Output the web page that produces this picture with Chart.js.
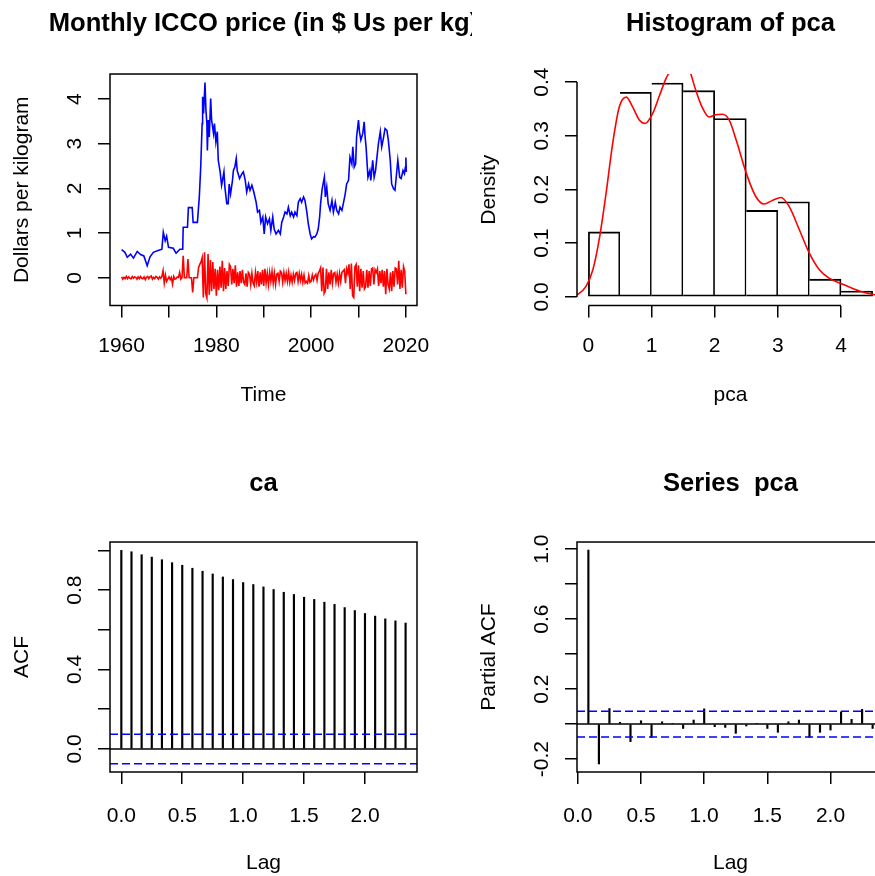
<!DOCTYPE html>
<html>
<head>
<meta charset="utf-8">
<script src="https://cdn.jsdelivr.net/npm/chart.js@4.4.1/dist/chart.umd.min.js"></script>
<style>
    html, body { margin: 0; padding: 0; background: #fff; }
    body { position: relative; width: 875px; height: 876px; overflow: hidden; }
    .panel { position: absolute; overflow: hidden; }
    .panel canvas { position: absolute; left: 0; top: 0; }
</style>
</head>
<body>
<div class="panel" style="left:467px;top:0;width:408px;height:438px"><canvas id="histChart" width="527" height="438" style="width:527px;height:438px"></canvas></div>
<div class="panel" style="left:467px;top:438px;width:408px;height:438px"><canvas id="pacfChart" width="527" height="438" style="width:527px;height:438px"></canvas></div>
<div class="panel" style="left:0;top:0;width:472px;height:438px"><canvas id="priceChart" width="527" height="438" style="width:527px;height:438px"></canvas></div>
<div class="panel" style="left:0;top:438px;width:467px;height:438px"><canvas id="acfChart" width="527" height="438" style="width:527px;height:438px"></canvas></div>
<script>
// --- monthly ICCO price (blue)
const priceYears = [
    1960.0, 1960.7, 1961.2, 1961.9, 1962.5, 1963.3, 1964.0, 1964.7, 1965.4, 1966.0,
    1966.7, 1967.7, 1968.5, 1968.8, 1969.2, 1969.5, 1969.9, 1970.9, 1971.5, 1972.3,
    1972.9, 1973.0, 1973.9, 1974.1, 1974.9, 1975.1, 1976.0, 1976.4, 1976.7, 1977.0,
    1977.1, 1977.3, 1977.6, 1977.8, 1978.0, 1978.1, 1978.3, 1978.5, 1978.8, 1979.0,
    1979.4, 1979.6, 1979.9, 1980.2, 1980.4, 1980.8, 1981.1, 1981.3, 1981.6, 1981.8,
    1982.2, 1982.5, 1982.7, 1983.0, 1983.4, 1983.6, 1983.9, 1984.2, 1984.4, 1984.9,
    1985.4, 1985.7, 1986.1, 1986.4, 1986.8, 1987.1, 1987.5, 1987.9, 1988.4, 1988.7,
    1989.1, 1989.4, 1989.8, 1990.1, 1990.4, 1990.8, 1991.2, 1991.5, 1991.9, 1992.2,
    1992.6, 1993.1, 1993.5, 1993.8, 1994.2, 1994.5, 1994.9, 1995.2, 1995.6, 1995.9,
    1996.3, 1996.6, 1997.0, 1997.3, 1997.7, 1998.0, 1998.4, 1998.7, 1999.1, 1999.4,
    1999.8, 2000.1, 2000.5, 2000.8, 2001.2, 2001.5, 2001.8, 2002.0, 2002.3, 2002.6,
    2002.8, 2003.0, 2003.3, 2003.6, 2004.0, 2004.4, 2004.7, 2005.1, 2005.4, 2005.8,
    2006.1, 2006.5, 2006.8, 2007.2, 2007.5, 2007.9, 2008.2, 2008.6, 2008.8, 2009.1,
    2009.4, 2009.6, 2010.0, 2010.2, 2010.5, 2010.9, 2011.2, 2011.4, 2011.6, 2012.0,
    2012.4, 2012.6, 2013.0, 2013.3, 2013.6, 2013.9, 2014.2, 2014.6, 2014.9, 2015.3,
    2015.6, 2016.0, 2016.3, 2016.7, 2017.0, 2017.4, 2017.7, 2018.1, 2018.3, 2018.7,
    2019.0, 2019.4, 2019.7, 2019.9, 2020.0, 2020.1,
];
const priceValues = [
    0.63, 0.57, 0.46, 0.53, 0.44, 0.59, 0.52, 0.49, 0.27, 0.47,
    0.57, 0.61, 0.64, 1.02, 0.83, 0.93, 0.68, 0.66, 0.55, 0.64,
    0.64, 1.13, 1.13, 1.57, 1.57, 1.24, 1.24, 1.81, 2.48, 3.45,
    4.05, 3.68, 4.37, 3.75, 3.45, 2.85, 3.53, 3.15, 4.01, 3.53,
    3.23, 3.45, 3.04, 3.27, 2.63, 2.37, 2.07, 2.18, 2.37, 2.03,
    1.66, 1.66, 2.10, 1.88, 2.18, 2.40, 2.48, 2.67, 2.40, 2.22,
    2.33, 2.37, 2.18, 1.92, 2.10, 1.96, 2.07, 1.92, 1.69, 1.47,
    1.51, 1.24, 1.36, 0.98, 1.36, 1.21, 1.32, 1.06, 1.36, 1.09,
    0.98, 1.06, 0.98, 1.24, 1.36, 1.47, 1.43, 1.58, 1.39, 1.47,
    1.36, 1.47, 1.39, 1.69, 1.77, 1.69, 1.81, 1.73, 1.47, 1.21,
    0.98, 0.87, 0.92, 0.91, 0.98, 1.09, 1.36, 1.66, 1.96, 2.14,
    2.25, 1.81, 2.03, 1.66, 1.51, 1.73, 1.47, 1.69, 1.51, 1.43,
    1.58, 1.51, 1.66, 1.88, 2.10, 2.18, 2.70, 2.55, 2.93, 2.48,
    2.55, 3.15, 3.53, 3.27, 3.08, 3.23, 3.49, 3.15, 2.93, 2.25,
    2.40, 2.18, 2.63, 2.25, 2.40, 2.70, 3.00, 3.27, 2.93, 3.15,
    3.34, 3.30, 3.08, 2.63, 2.10, 1.99, 1.96, 2.40, 2.63, 2.25,
    2.22, 2.40, 2.33, 2.48, 2.69, 2.37,
];

// --- quarterly price changes (red), starting 1960
const diffStart = 1960;
const diffValues = [
    0.02, -0.03, 0.01, -0.02,   0.03, -0.02, 0.02, -0.01,   -0.02, 0.03, -0.01, 0.02,
    0.01, -0.03, 0.02, -0.02,   0.03, -0.01, -0.02, 0.02,   -0.04, 0.01, 0.03, -0.02,
    0.02, 0.04, -0.03, 0.01,    -0.02, 0.03, 0.01, -0.03,   0.02, -0.01, 0.03, 0.16,
    -0.12, 0.06, -0.08, -0.03,  0.02, -0.04, 0.01, -0.14,   0.03, -0.03, -0.02, 0.02,
    0.01, 0.12, -0.03, 0.0,     0.49, 0.0, 0.0, 0.0,        0.42, 0.0, 0.0, 0.0,
    -0.33, 0.0, 0.0, 0.0,       0.0, 0.23, 0.30, 0.35,      0.45, -0.44, 0.57, -0.35,
    -0.45, 0.53, -0.38, 0.40,   -0.30, 0.35, -0.25, 0.20,   -0.40, 0.18, -0.28, 0.25,
    -0.22, 0.38, -0.30, 0.22,   -0.25, 0.15, -0.18, 0.30,   0.25, -0.15, 0.20, -0.12,
    0.28, -0.20, 0.12, -0.18,   0.15, -0.12, 0.18, -0.10,   -0.15, 0.10, -0.20, 0.12,
    0.08, -0.15, 0.10, -0.12,   -0.18, 0.12, -0.10, 0.15,   -0.20, 0.12, -0.15, 0.18,
    -0.18, 0.20, -0.12, 0.10,   -0.15, 0.12, -0.08, 0.14,   -0.12, 0.10, -0.15, 0.08,
    0.10, -0.08, 0.15, 0.12,    -0.10, 0.12, -0.06, 0.10,   -0.08, 0.12, -0.10, 0.06,
    -0.10, 0.08, -0.06, 0.10,   0.12, -0.08, 0.10, -0.06,   0.08, -0.10, 0.06, -0.12,
    -0.08, -0.12, 0.05, -0.10,  -0.08, 0.06, -0.05, 0.04,   0.08, -0.06, 0.10, 0.15,
    0.22, -0.30, 0.23, -0.35,   -0.29, 0.20, -0.25, 0.12,   -0.15, 0.18, -0.12, 0.10,
    0.12, -0.10, 0.08, -0.12,   0.10, -0.08, 0.12, 0.15,    0.18, -0.12, 0.20, 0.10,
    0.30, -0.25, 0.32, -0.40,   -0.44, 0.25, 0.30, -0.20,   0.28, -0.30, 0.20, -0.22,
    0.15, -0.25, -0.20, 0.18,   -0.22, 0.15, -0.18, 0.20,   0.22, -0.15, 0.18, 0.12,
    0.20, -0.18, 0.15, -0.12,   0.18, -0.20, 0.15, -0.37,   0.20, -0.15, -0.25, 0.12,
    -0.30, 0.15, -0.20, 0.22,   0.20, -0.15, 0.38, -0.25,   0.18, -0.22, 0.25, 0.15,
    -0.37,
];

// --- histogram of pca with its density curve
const histBreaks = [0, 0.5, 1, 1.5, 2, 2.5, 3, 3.5, 4, 4.5];
const histDensity = [0.121, 0.381, 0.398, 0.384, 0.332, 0.161, 0.177, 0.033, 0.011];
const densX = [
    -0.2, -0.04, 0.07, 0.17, 0.28, 0.385, 0.49, 0.6, 0.7, 0.81,
    0.9, 1.02, 1.12, 1.23, 1.28, 1.35, 1.45, 1.55, 1.62, 1.7,
    1.81, 1.91, 2.02, 2.12, 2.23, 2.34, 2.5, 2.65, 2.78, 2.92,
    3.05, 3.18, 3.34, 3.5, 3.66, 3.81, 4.02, 4.29, 4.53, 4.7,
];
const densY = [
    0.002, 0.019, 0.05, 0.106, 0.193, 0.286, 0.354, 0.372, 0.354, 0.329,
    0.323, 0.342, 0.373, 0.407, 0.418, 0.44, 0.452, 0.44, 0.416, 0.385,
    0.351, 0.335, 0.339, 0.34, 0.329, 0.292, 0.23, 0.187, 0.173, 0.18,
    0.185, 0.168, 0.125, 0.081, 0.05, 0.035, 0.024, 0.011, 0.004, 0.002,
];

// --- ACF of ca (lags 0..28 months) and PACF of pca (lags 1..28)
const acfValues = [
    1.0, 0.993, 0.978, 0.966, 0.953, 0.938, 0.925, 0.91, 0.895, 0.881,
    0.866, 0.853, 0.838, 0.828, 0.816, 0.803, 0.789, 0.778, 0.764, 0.753,
    0.739, 0.728, 0.712, 0.697, 0.682, 0.669, 0.655, 0.645, 0.634,
];
const acfBound = 0.074;
const pacfValues = [
    0.995, -0.228, 0.089, 0.01, -0.1, 0.019, -0.076, 0.013, 0.004, -0.025,
    0.023, 0.087, -0.015, -0.019, -0.053, -0.011, 0.004, -0.025, -0.047, 0.013,
    0.023, -0.076, -0.047, -0.034, 0.07, 0.027, 0.084, -0.025,
];
const pacfBound = 0.0735;

// --- tick marks and which of them carry a label
const timeTicks = [1960, 1970, 1980, 1990, 2000, 2010, 2020];
const timeLabelled = [1960, 1980, 2000, 2020];
const priceTicks = [0, 1, 2, 3, 4];
const histXTicks = [0, 1, 2, 3, 4];
const histYTicks = [0, 0.1, 0.2, 0.3, 0.4];
const lagTicks = [0, 0.5, 1, 1.5, 2];
const acfTicks = [0, 0.2, 0.4, 0.6, 0.8, 1];
const acfLabelled = [0, 0.4, 0.8];
const pacfTicks = [-0.2, 0, 0.2, 0.4, 0.6, 0.8, 1];
const pacfLabelled = [-0.2, 0.2, 0.6, 1];

const FONT = "'Liberation Sans', Arial, Helvetica, sans-serif";

function inList(list, v) {
    return list.some((l) => Math.abs(l - v) < 1e-9);
}

// draws the R box() round the plot, or only the axis lines for hist()
const framePlugin = {
    id: "rframe",
    afterDraw(chart, args, opts) {
        const ctx = chart.ctx;
        const a = chart.chartArea;
        ctx.save();
        ctx.strokeStyle = "#000";
        ctx.lineWidth = 1.5;
        if (opts.box) {
            ctx.strokeRect(a.left, a.top, a.right - a.left, a.bottom - a.top);
        } else {
            const x = chart.scales.x;
            const y = chart.scales.y;
            const xt = x.ticks;
            const yt = y.ticks;
            ctx.beginPath();
            ctx.moveTo(x.getPixelForValue(xt[0].value), a.bottom);
            ctx.lineTo(x.getPixelForValue(xt[xt.length - 1].value), a.bottom);
            ctx.moveTo(a.left, y.getPixelForValue(yt[0].value));
            ctx.lineTo(a.left, y.getPixelForValue(yt[yt.length - 1].value));
            ctx.stroke();
        }
        ctx.restore();
    },
};

// one R style axis: outward ticks, vertical labels on the y axis
function rAxis(o) {
    const left = o.position === "left";
    return {
        type: "linear",
        position: o.position,
        min: o.min,
        max: o.max,
        bounds: "data",
        offset: false,
        afterBuildTicks: (s) => {
            s.ticks = o.ticks.map((v) => ({ value: v }));
        },
        afterFit: (s) => {
            if (left) s.width = o.size;
            else s.height = o.size;
        },
        grid: {
            drawOnChartArea: false,
            drawTicks: true,
            tickLength: 12,
            color: "#000",
            lineWidth: 1.5,
            offset: false,
        },
        border: { display: false },
        ticks: {
            autoSkip: false,
            color: "#000",
            font: { family: FONT, size: 21 },
            padding: o.labelPad,
            minRotation: left ? 90 : 0,
            maxRotation: left ? 90 : 0,
            crossAlign: left ? "center" : "near",
            callback: o.label,
        },
        title: {
            display: true,
            text: o.title,
            color: "#000",
            font: { family: FONT, size: 21, lineHeight: 1.2 },
            padding: left ? { top: o.titlePad, bottom: 0 } : { top: 0, bottom: o.titlePad },
        },
    };
}

function rOptions(o) {
    return {
        responsive: false,
        animation: false,
        events: [],
        layout: { padding: 0, autoPadding: false },
        plugins: {
            legend: { display: false },
            tooltip: { enabled: false },
            title: {
                display: true,
                text: o.title,
                color: "#000",
                font: { family: FONT, size: 25.6, weight: "bold", lineHeight: 1.2 },
                padding: o.titlePad,
            },
            rframe: { box: o.box },
        },
        scales: {
            x: o.x,
            y: o.y,
            // empty right margin so the title centres over the plot
            pad: {
                type: "linear",
                position: "right",
                grid: { display: false },
                border: { display: false },
                ticks: { display: false },
                afterFit: (s) => {
                    s.width = 110;
                },
            },
        },
    };
}

function lineAcross(xMin, xMax, v, color, dash) {
    return {
        type: "line",
        data: [{ x: xMin, y: v }, { x: xMax, y: v }],
        borderColor: color,
        borderWidth: 1.5,
        borderDash: dash,
        pointRadius: 0,
        order: 0,
    };
}

document.addEventListener("DOMContentLoaded", function () {
    const topTitle = { top: 8.7, bottom: 34.6 };
    const bottomTitle = { top: 30.7, bottom: 42.6 };

    // top left: price series and its changes
    new Chart(document.getElementById("priceChart").getContext("2d"), {
        type: "line",
        data: {
            datasets: [
                {
                    data: priceYears.map((yr, i) => ({ x: yr, y: priceValues[i] })),
                    borderColor: "#0000ff",
                    borderWidth: 1.6,
                    pointRadius: 0,
                    tension: 0,
                },
                {
                    data: diffValues.map((v, i) => ({ x: diffStart + i / 4, y: v })),
                    borderColor: "#ff0000",
                    borderWidth: 1.6,
                    pointRadius: 0,
                    tension: 0,
                },
            ],
        },
        options: rOptions({
            title: "Monthly ICCO price (in $ Us per kg)",
            titlePad: topTitle,
            box: true,
            x: rAxis({
                position: "bottom", min: 1957.55, max: 2022.35, ticks: timeTicks, size: 132.5,
                labelPad: 16, title: "Time", titlePad: 30.4,
                label: (v) => (inList(timeLabelled, v) ? String(v) : ""),
            }),
            y: rAxis({
                position: "left", min: -0.62, max: 4.56, ticks: priceTicks, size: 110,
                labelPad: 16.5, title: "Dollars per kilogram", titlePad: 9.4,
                label: (v) => String(v),
            }),
        }),
        plugins: [framePlugin],
    });

    // top right: histogram with density
    const histBars = histDensity.map((d, i) => ({ x: (histBreaks[i] + histBreaks[i + 1]) / 2, y: d }));
    new Chart(document.getElementById("histChart").getContext("2d"), {
        type: "bar",
        data: {
            datasets: [
                {
                    type: "line",
                    data: densX.map((x, i) => ({ x: x, y: densY[i] })),
                    borderColor: "#ff0000",
                    borderWidth: 1.6,
                    pointRadius: 0,
                    cubicInterpolationMode: "monotone",
                    order: 0,
                },
                {
                    data: histBars,
                    backgroundColor: "#ffffff",
                    borderColor: "#000000",
                    borderWidth: (c) => ({ top: 1.8, right: 1.8, bottom: 1.8, left: c.dataIndex === 0 ? 1.8 : 0 }),
                    borderSkipped: false,
                    barPercentage: 1,
                    categoryPercentage: 1,
                    order: 1,
                },
            ],
        },
        options: rOptions({
            title: "Histogram of pca",
            titlePad: topTitle,
            box: false,
            x: rAxis({
                position: "bottom", min: -0.18, max: 4.68, ticks: histXTicks, size: 132.5,
                labelPad: 16, title: "pca", titlePad: 30.4,
                label: (v) => String(v),
            }),
            y: rAxis({
                position: "left", min: -0.016, max: 0.415, ticks: histYTicks, size: 110,
                labelPad: 8.4, title: "Density", titlePad: 9.4,
                label: (v) => v.toFixed(1),
            }),
        }),
        plugins: [framePlugin],
    });

    // bottom left: ACF
    const acfX = [-0.093, 2.427];
    new Chart(document.getElementById("acfChart").getContext("2d"), {
        type: "bar",
        data: {
            datasets: [
                lineAcross(acfX[0], acfX[1], 0, "#000000", []),
                lineAcross(acfX[0], acfX[1], acfBound, "#0000ff", [8, 4]),
                lineAcross(acfX[0], acfX[1], -acfBound, "#0000ff", [8, 4]),
                {
                    data: acfValues.map((v, i) => ({ x: i / 12, y: v })),
                    backgroundColor: "#000000",
                    barThickness: 1.5,
                    order: 1,
                },
            ],
        },
        options: rOptions({
            title: "ca",
            titlePad: bottomTitle,
            box: true,
            x: rAxis({
                position: "bottom", min: acfX[0], max: acfX[1], ticks: lagTicks, size: 104,
                labelPad: 20, title: "Lag", titlePad: 0,
                label: (v) => v.toFixed(1),
            }),
            y: rAxis({
                position: "left", min: -0.116, max: 1.042, ticks: acfTicks, size: 110,
                labelPad: 8.4, title: "ACF", titlePad: 9.4,
                label: (v) => (inList(acfLabelled, v) ? v.toFixed(1) : ""),
            }),
        }),
        plugins: [framePlugin],
    });

    // bottom right: PACF
    const pacfX = [-0.0067, 2.4233];
    new Chart(document.getElementById("pacfChart").getContext("2d"), {
        type: "bar",
        data: {
            datasets: [
                lineAcross(pacfX[0], pacfX[1], 0, "#000000", []),
                lineAcross(pacfX[0], pacfX[1], pacfBound, "#0000ff", [8, 4]),
                lineAcross(pacfX[0], pacfX[1], -pacfBound, "#0000ff", [8, 4]),
                {
                    data: pacfValues.map((v, i) => ({ x: (i + 1) / 12, y: v })),
                    backgroundColor: "#000000",
                    barThickness: 1.5,
                    order: 1,
                },
            ],
        },
        options: rOptions({
            title: "Series  pca",
            titlePad: bottomTitle,
            box: true,
            x: rAxis({
                position: "bottom", min: pacfX[0], max: pacfX[1], ticks: lagTicks, size: 104,
                labelPad: 20, title: "Lag", titlePad: 0,
                label: (v) => v.toFixed(1),
            }),
            y: rAxis({
                position: "left", min: -0.274, max: 1.041, ticks: pacfTicks, size: 110,
                labelPad: 4.9, title: "Partial ACF", titlePad: 9.4,
                label: (v) => (inList(pacfLabelled, v) ? v.toFixed(1) : ""),
            }),
        }),
        plugins: [framePlugin],
    });
});
</script>
</body>
</html>
